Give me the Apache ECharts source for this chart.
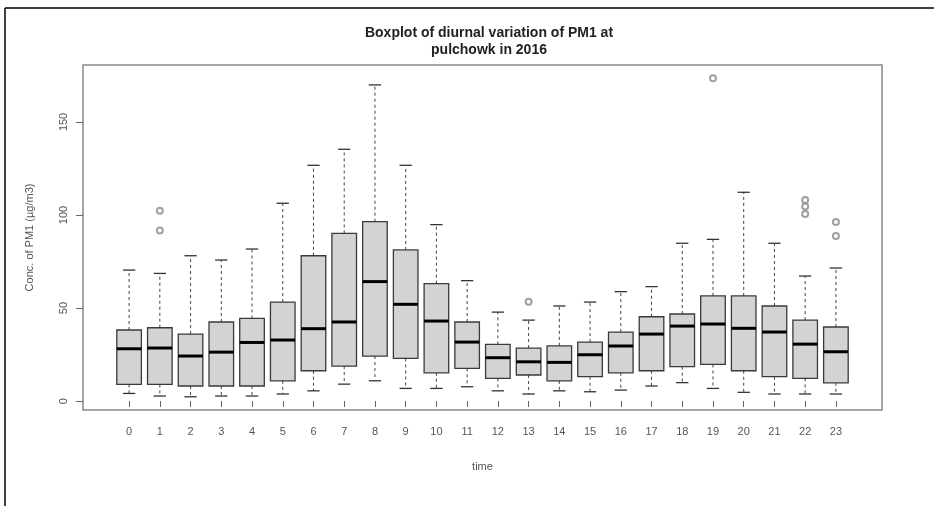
<!DOCTYPE html>
<html>
<head>
<meta charset="utf-8">
<script src="https://cdn.jsdelivr.net/npm/echarts@6/dist/echarts.min.js"></script>
<style>
html,body{margin:0;padding:0;background:#fff;}
#chart{width:934px;height:506px;}
</style>
</head>
<body>
<div id="chart"></div>
<script>
// ---- data ----
const hours = ['0','1','2','3','4','5','6','7','8','9','10','11','12','13','14','15','16','17','18','19','20','21','22','23'];
const lowerWhisker = [4.1, 2.7, 2.3, 2.7, 2.7, 3.8, 5.5, 9.1, 10.9, 6.8, 6.8, 7.7, 5.5, 3.8, 5.5, 5.0, 5.9, 8.1, 9.9, 6.8, 4.7, 3.8, 3.8, 3.8];
const q1 = [9.0, 9.0, 8.1, 8.1, 8.1, 10.9, 16.3, 18.8, 24.2, 22.9, 15.2, 17.6, 12.2, 14.0, 10.9, 13.1, 15.2, 16.3, 18.5, 19.7, 16.3, 13.1, 12.2, 9.8];
const median = [28.1, 28.5, 24.2, 26.3, 31.5, 32.8, 38.9, 42.5, 64.2, 52.0, 43.0, 31.7, 23.3, 21.1, 20.8, 24.9, 29.6, 36.0, 40.3, 41.4, 39.1, 37.1, 30.6, 26.5];
const q3 = [38.2, 39.4, 36.0, 42.5, 44.4, 53.2, 78.1, 90.1, 96.4, 81.2, 63.1, 42.5, 30.5, 28.5, 29.7, 31.7, 37.1, 45.3, 46.8, 56.5, 56.5, 51.1, 43.5, 39.8];
const upperWhisker = [70.4, 68.6, 78.1, 75.8, 81.7, 106.3, 126.7, 135.3, 169.9, 126.7, 94.8, 64.7, 47.8, 43.5, 51.1, 53.2, 58.8, 61.5, 84.8, 86.9, 112.2, 84.8, 67.2, 71.5];
const outlierHours = ['1', '1', '13', '19', '22', '22', '22', '23', '23'];
const outlierValues = [102.3, 91.6, 53.4, 173.5, 108.1, 104.5, 100.5, 96.2, 88.7];
const yTicks = [0, 50, 100, 150];
const titleText = 'Boxplot of diurnal variation of PM1 at\npulchowk in 2016';
const xName = 'time';
const yName = 'Conc. of PM1 (µg/m3)';

// ---- build ----
const categories = [''].concat(hours, ['']);
const boxData = hours.map((h, i) => [h, lowerWhisker[i], q1[i], median[i], q3[i], upperWhisker[i]]);
const outlierData = outlierHours.map((h, i) => [h, outlierValues[i]]);
const FONT = '"Liberation Sans", Arial, sans-serif';
const showCat = (idx, val) => val !== '';

const chart = echarts.init(document.getElementById('chart'), null, {renderer: 'canvas'});

function renderBox(params, api) {
  const xi = api.value(0);
  const pLow = api.coord([xi, api.value(1)]);
  const pQ1 = api.coord([xi, api.value(2)]);
  const pMed = api.coord([xi, api.value(3)]);
  const pQ3 = api.coord([xi, api.value(4)]);
  const pHigh = api.coord([xi, api.value(5)]);
  const band = api.size([1, 0])[0];
  const bw = band * 0.8;
  const cw = band * 0.4;
  const cx = pMed[0];
  const dashStyle = {stroke: '#444', lineWidth: 1, lineDash: [3, 3]};
  const solid = {stroke: '#333', lineWidth: 1.3};
  return {
    type: 'group',
    children: [
      {type: 'line', shape: {x1: cx, y1: pQ3[1], x2: cx, y2: pHigh[1]}, style: dashStyle},
      {type: 'line', shape: {x1: cx, y1: pQ1[1], x2: cx, y2: pLow[1]}, style: dashStyle},
      {type: 'line', shape: {x1: cx - cw / 2, y1: pHigh[1], x2: cx + cw / 2, y2: pHigh[1]}, style: solid},
      {type: 'line', shape: {x1: cx - cw / 2, y1: pLow[1], x2: cx + cw / 2, y2: pLow[1]}, style: solid},
      {type: 'rect', shape: {x: cx - bw / 2, y: pQ3[1], width: bw, height: pQ1[1] - pQ3[1]},
        style: {fill: '#d3d3d3', stroke: '#3a3a3a', lineWidth: 1.3}},
      {type: 'line', shape: {x1: cx - bw / 2, y1: pMed[1], x2: cx + bw / 2, y2: pMed[1]},
        style: {stroke: '#000', lineWidth: 3}}
    ]
  };
}

chart.setOption({
  backgroundColor: '#fff',
  animation: false,
  title: {
    text: titleText,
    left: 484,
    top: 20,
    textAlign: 'center',
    textStyle: {fontFamily: FONT, fontSize: 14, fontWeight: 'bold', color: '#222', lineHeight: 17}
  },
  grid: {
    left: 83, right: 52, top: 65, bottom: 96,
    show: true, borderColor: '#888', borderWidth: 1.5, backgroundColor: 'transparent',
    outerBoundsMode: 'none'
  },
  xAxis: {
    type: 'category',
    data: categories,
    boundaryGap: true,
    name: xName,
    nameLocation: 'middle',
    nameGap: 51,
    nameTextStyle: {fontFamily: FONT, fontSize: 11, color: '#555'},
    axisLine: {show: false},
    axisTick: {show: true, alignWithLabel: true, interval: showCat, length: 6, lineStyle: {color: '#666', width: 1}},
    axisLabel: {interval: showCat, margin: 16, fontFamily: FONT, fontSize: 11, color: '#555'},
    splitLine: {show: false}
  },
  yAxis: {
    type: 'value',
    min: -4.8,
    max: 180.6,
    name: yName,
    nameLocation: 'middle',
    nameRotate: 90,
    nameGap: 48,
    nameTextStyle: {fontFamily: FONT, fontSize: 11, color: '#555'},
    axisLine: {show: false},
    axisTick: {show: true, customValues: yTicks, length: 7, lineStyle: {color: '#666', width: 1}},
    axisLabel: {customValues: yTicks, rotate: 90, margin: 14, fontFamily: FONT, fontSize: 11, color: '#555'},
    splitLine: {show: false}
  },
  graphic: [
    {type: 'line', shape: {x1: 5, y1: 8, x2: 5, y2: 506}, style: {stroke: '#000', lineWidth: 1.5}, silent: true},
    {type: 'line', shape: {x1: 5, y1: 8, x2: 934, y2: 8}, style: {stroke: '#000', lineWidth: 1.5}, silent: true}
  ],
  series: [
    {
      type: 'custom',
      renderItem: renderBox,
      encode: {x: 0, y: [1, 2, 3, 4, 5]},
      data: boxData,
      z: 2
    },
    {
      type: 'scatter',
      data: outlierData,
      symbol: 'emptyCircle',
      symbolSize: 6,
      itemStyle: {color: '#888', borderColor: '#888', borderWidth: 1},
      z: 3
    }
  ]
});
</script>
</body>
</html>
